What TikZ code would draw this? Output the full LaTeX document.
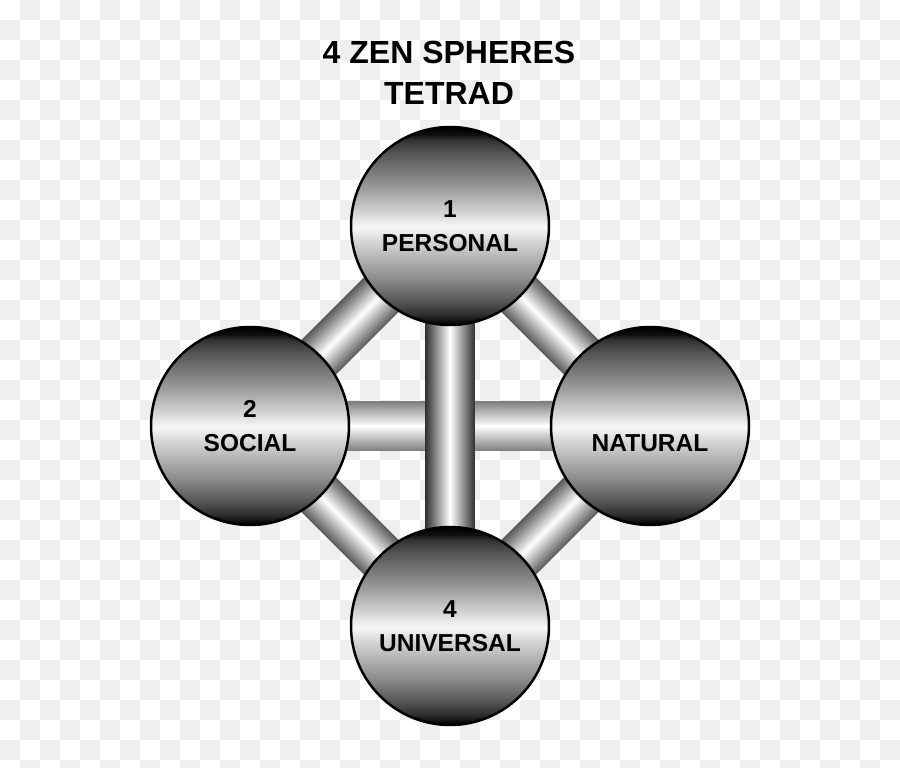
\documentclass[tikz,border=0pt]{standalone}
\usepackage{fontspec}
\setmainfont{Liberation Sans}
\usepackage{tikz}
\usetikzlibrary{calc,backgrounds}
\pgfdeclarelayer{board}
\pgfsetlayers{board,background,main}
\definecolor{chkgray}{HTML}{EFEFEF}
% dark top, white band just under the middle, dark bottom
\pgfdeclareverticalshading{sphshade}{100bp}{
  color(0bp)=(black); color(25bp)=(black); color(26.3bp)=(white!8!black);
  color(28bp)=(white!20!black); color(31.3bp)=(white!35!black);
  color(36.4bp)=(white!54!black); color(41.4bp)=(white!69!black);
  color(46.5bp)=(white!85!black); color(49.7bp)=(white!97!black);
  color(54.8bp)=(white!78!black); color(59.8bp)=(white!60!black);
  color(64.1bp)=(white!47!black); color(68.4bp)=(white!33!black);
  color(71.7bp)=(white!20!black); color(73bp)=(white!6!black);
  color(75bp)=(black); color(100bp)=(black)}
\tikzset{
  sphere/.style  = {circle, draw=black, line width=1.25pt, minimum size=99pt, inner sep=0pt,
                    shade, shading=sphshade, align=center,
                    font=\fontsize{12.25pt}{17pt}\selectfont\bfseries},
  tube/.style    = {top color=#1, bottom color=#1, middle color=white},
  tube/.default  = white!30!black,
  heading/.style = {align=center, font=\fontsize{16pt}{20.5pt}\selectfont\bfseries},
}

\begin{document}
\begin{tikzpicture}[x=0.5pt, y=0.5pt]
\useasboundingbox (0,0) rectangle (900,767);
% checkerboard
\begin{pgfonlayer}{board}
\begin{scope}
  \clip (0,0) rectangle (900,767);
  \fill[white] (0,0) rectangle (900,767);
  \foreach \i in {0,...,44}
    \foreach \j in {0,...,38}{
      \pgfmathtruncatemacro\odd{mod(\i+\j,2)}
      \ifnum\odd=1 \fill[chkgray] (20*\i,767-20*\j) rectangle ++(20,-20);\fi
    }
\end{scope}
\end{pgfonlayer}

\node[heading] (title) at (449,694) {4 ZEN SPHERES\\TETRAD};

% spheres
\node[sphere] (s1) at (450,541) {1\\PERSONAL};
\node[sphere] (s2) at (250,341) {2\\SOCIAL};
\node[sphere] (s3) at (650,341) {\phantom{3}\\NATURAL};
\node[sphere] (s4) at (450,141) {4\\UNIVERSAL};

% tubes, centre to centre, shaded across their width
\begin{scope}[on background layer]
\foreach \a/\b/\col in {s2/s3/white!50!black, s1/s4/white!20!black, s1/s2/white!35!black,
                        s1/s3/white!35!black, s2/s4/white!35!black, s3/s4/white!35!black}{
  \path let \p1=($(\b.center)-(\a.center)$), \n1={veclen(\x1,\y1)}, \n2={atan2(\y1,\x1)} in
    \pgfextra{\xdef\tlen{\n1}\xdef\tang{\n2}};
  \shade[tube=\col, transform canvas={shift={(\a.center)}, rotate=\tang}]
    (0,-12.25pt) rectangle (\tlen,12.25pt);
}
\end{scope}
\end{tikzpicture}
\end{document}
